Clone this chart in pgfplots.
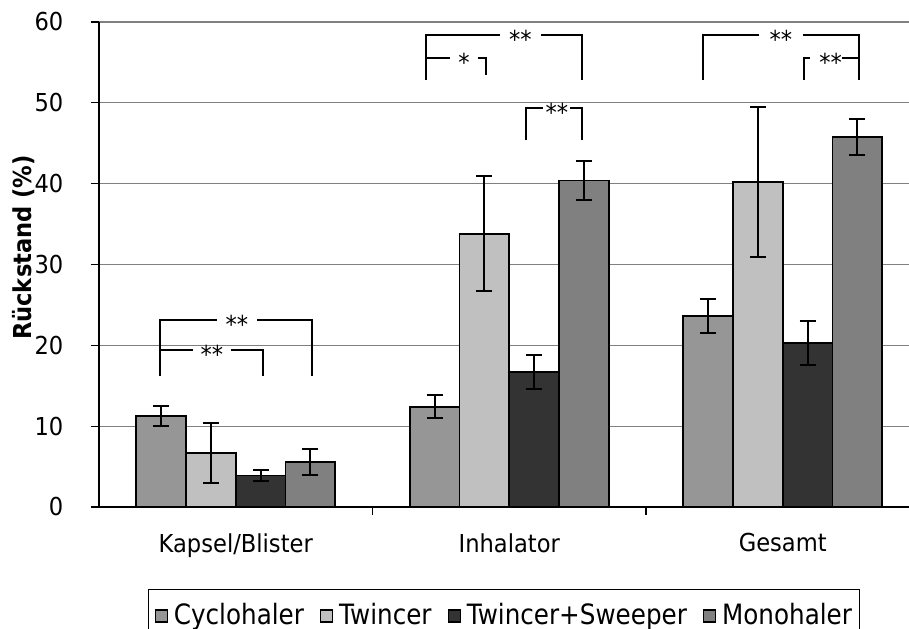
\documentclass[border=0pt]{standalone}
\usepackage{fontspec}
\setmainfont{DejaVu Sans}[FakeStretch=0.915]
\newfontfamily\legfont{DejaVu Sans}[FakeStretch=0.88]
\usepackage{pgfplots}
\pgfplotsset{compat=1.18}

\definecolor{cyclo}{HTML}{969696}
\definecolor{twin}{HTML}{C0C0C0}
\definecolor{sweep}{HTML}{333333}
\definecolor{mono}{HTML}{808080}

\begin{document}
\fontsize{12.35bp}{14.8bp}\selectfont
\begin{tikzpicture}
\begin{axis}[
    scale only axis,
    width=410.25bp, height=242.5bp,
    ybar=0pt, bar width=0.182,
    xmin=-0.5, xmax=2.5,
    ymin=0, ymax=60,
    ytick={0,10,...,60},
    xtick={0.5,1.5}, xticklabels={},
    extra x ticks={0,1,2},
    extra x tick labels={Kapsel/Blister,Inhalator,Gesamt},
    extra x tick style={major tick length=0pt},
    xticklabel style={yshift=-9bp},
    yticklabel style={xshift=-9.5bp},
    /pgf/number format/assume math mode=true,
    axis x line*=bottom, axis y line*=left,
    axis line style={line width=0.7bp, black},
    tick align=outside, major tick length=4bp,
    tick style={line width=0.6bp, black},
    ymajorgrids, grid style={line width=0.6bp, color=mono},
    clip=false,
    error bars/y dir=both, error bars/y explicit,
    error bars/error bar style={line width=1bp, black},
    error bars/error mark options={rotate=90, mark size=4bp, line width=1bp, black},
    legend image code/.code={\draw[#1, line width=0.6bp] (0bp,-3bp) rectangle (6bp,3bp);},
    legend style={at={(0.494,-0.169)}, anchor=north, legend columns=4,
        draw=black, line width=0.5bp, inner xsep=3bp, inner ysep=5bp,
        font=\legfont\fontsize{14bp}{16bp}\selectfont,
        nodes={inner xsep=1bp},
        /tikz/every even column/.append style={column sep=7bp},
        /tikz/every odd column/.append style={column sep=2bp}},
]
\addplot[fill=cyclo, draw=black, line width=0.9bp]
    coordinates {(0,11.3) +- (0,1.25) (1,12.4) +- (0,1.45) (2,23.6) +- (0,2.1)};
\addlegendentry{Cyclohaler}
\addplot[fill=twin, draw=black, line width=0.9bp]
    coordinates {(0,6.7) +- (0,3.7) (1,33.8) +- (0,7.1) (2,40.2) +- (0,9.3)};
\addlegendentry{Twincer}
\addplot[fill=sweep, draw=black, line width=0.9bp]
    coordinates {(0,3.9) +- (0,0.7) (1,16.7) +- (0,2.1) (2,20.3) +- (0,2.75)};
\addlegendentry{Twincer+Sweeper}
\addplot[fill=mono, draw=black, line width=0.9bp]
    coordinates {(0,5.6) +- (0,1.6) (1,40.4) +- (0,2.45) (2,45.8) +- (0,2.25)};
\addlegendentry{Monohaler}

% significance brackets
\begin{scope}[line width=1bp]
% Kapsel/Blister
\draw (-0.276,16.2) -- (-0.276,23.1) -- (-0.07,23.1);
\draw (0.078,23.1) -- (0.279,23.1) -- (0.279,16.2);
\node[anchor=base, yshift=-6.8bp] at (0.004,23.1) {**};
\draw (-0.276,19.4) -- (-0.156,19.4);
\draw (-0.016,19.4) -- (0.0995,19.4) -- (0.0995,16.2);
\node[anchor=base, yshift=-6.8bp] at (-0.087,19.4) {**};
% Inhalator
\draw (0.6965,52.8) -- (0.6965,58.4) -- (0.967,58.4);
\draw (1.116,58.4) -- (1.267,58.4) -- (1.267,52.8);
\node[anchor=base, yshift=-6.8bp] at (1.041,58.4) {**};
\draw (0.6965,55.6) -- (0.782,55.6);
\draw (0.884,55.6) -- (0.916,55.6) -- (0.916,53.4);
\node[anchor=base, yshift=-6.8bp] at (0.835,55.6) {*};
\draw (1.062,45.4) -- (1.062,49.4) -- (1.125,49.4);
\draw (1.223,49.4) -- (1.267,49.4) -- (1.267,45.4);
\node[anchor=base, yshift=-6.8bp] at (1.174,49.4) {**};
% Gesamt
\draw (1.708,52.8) -- (1.708,58.4) -- (1.912,58.4);
\draw (2.074,58.4) -- (2.279,58.4) -- (2.279,52.8);
\node[anchor=base, yshift=-6.8bp] at (1.993,58.4) {**};
\draw (2.076,52.8) -- (2.076,55.6) -- (2.100,55.6);
\draw (2.217,55.6) -- (2.279,55.6);
\node[anchor=base, yshift=-6.8bp] at (2.175,55.6) {**};
\end{scope}

\path (rel axis cs:0,0.5) ++(-37.5bp,8.5bp) node[rotate=90, font=\bfseries] {Rückstand (\%)};
\coordinate (bl) at (rel axis cs:0,0);
\coordinate (tr) at (rel axis cs:1,1);
\end{axis}
\pgfresetboundingbox
\path[use as bounding box] ([shift={(-49.5bp,-61bp)}]bl) rectangle ([shift={(-5.25bp,11bp)}]tr);
\end{tikzpicture}
\end{document}
